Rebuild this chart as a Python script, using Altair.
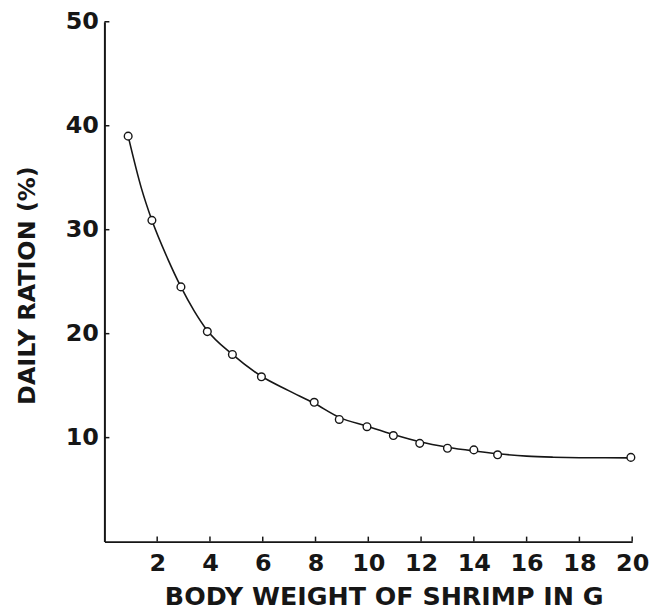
import altair as alt
import pandas as pd

# Observed points (body weight g, daily ration %)
point_x = [0.9, 1.8, 2.9, 3.9, 4.85, 5.95, 7.95, 8.9, 9.95, 10.95, 11.95, 13.0, 14.0, 14.9, 19.95]
point_y = [39.0, 30.9, 24.5, 20.2, 18.0, 15.85, 13.4, 11.75, 11.05, 10.2, 9.45, 8.98, 8.82, 8.35, 8.1]

# Fitted curve
curve_x = [0.9, 1.4, 1.8, 2.4, 2.9, 3.4, 3.9, 4.85, 5.95, 7.0, 7.95, 8.9, 9.95,
           10.95, 11.95, 13.0, 14.0, 14.9, 16.0, 17.0, 18.0, 19.0, 19.95]
curve_y = [39.0, 34.0, 30.9, 27.2, 24.5, 22.2, 20.3, 18.0, 15.9, 14.5, 13.3, 11.95, 11.1,
           10.3, 9.6, 9.08, 8.72, 8.45, 8.22, 8.12, 8.07, 8.06, 8.05]

x_ticks = [2, 4, 6, 8, 10, 12, 14, 16, 18, 20]
y_ticks = [10, 20, 30, 40, 50]

W, H = 531, 523
INK = "#161616"
FONT = "DejaVu Sans"

pts = pd.DataFrame({"x": point_x, "y": point_y})
crv = pd.DataFrame({"x": curve_x, "y": curve_y})
xt = pd.DataFrame({"x": x_ticks})
yt = pd.DataFrame({"y": y_ticks})

xscale = alt.Scale(domain=[0, 20], nice=False, zero=True)
yscale = alt.Scale(domain=[0, 50], nice=False, zero=True)

xaxis = alt.Axis(
    values=x_ticks, ticks=False, grid=False, domainColor=INK, domainWidth=1.6,
    labelFont=FONT, labelFontWeight="bold", labelFontSize=24, labelColor=INK,
    labelPadding=10, labelFlush=False,
    title="BODY WEIGHT OF SHRIMP IN G", titleFont=FONT, titleFontWeight="bold",
    titleFontSize=25.5, titleColor=INK, titleX=281, titleY=55,
    titleAlign="center", titleBaseline="middle", titleAnchor="middle",
)
yaxis = alt.Axis(
    values=y_ticks, ticks=False, grid=False, domainColor=INK, domainWidth=2,
    labelFont=FONT, labelFontWeight="bold", labelFontSize=24, labelColor=INK,
    labelPadding=6, labelFlush=False, labelBaseline="middle",
    title="DAILY RATION (%)", titleFont=FONT, titleFontWeight="bold",
    titleFontSize=24, titleColor=INK, titleAngle=270, titleX=-77, titleY=265,
    titleAlign="center", titleBaseline="middle", titleAnchor="middle",
)

curve = alt.Chart(crv).mark_line(
    interpolate="monotone", color=INK, strokeWidth=1.6
).encode(
    x=alt.X("x:Q", scale=xscale, axis=xaxis),
    y=alt.Y("y:Q", scale=yscale, axis=yaxis),
)

points = alt.Chart(pts).mark_point(
    shape="circle", filled=True, fill="white", stroke=INK, strokeWidth=1.4,
    size=60, opacity=1,
).encode(
    x=alt.X("x:Q", scale=xscale),
    y=alt.Y("y:Q", scale=yscale),
)

xtick_rules = alt.Chart(xt).mark_rule(color=INK, strokeWidth=1.5).encode(
    x=alt.X("x:Q", scale=xscale),
    y=alt.value(H),
    y2=alt.value(H - 5),
)

ytick_rules = alt.Chart(yt).mark_rule(color=INK, strokeWidth=1.5).encode(
    y=alt.Y("y:Q", scale=yscale),
    x=alt.value(0),
    x2=alt.value(5),
)

chart = alt.layer(curve, xtick_rules, ytick_rules, points).properties(
    width=W, height=H,
    autosize=alt.AutoSizeParams(type="none"),
    padding={"left": 97, "top": 12, "right": 30, "bottom": 72},
    background="white",
).configure_view(stroke=None)

chart.save("out.html", embed_options={"renderer": "svg", "actions": False})
